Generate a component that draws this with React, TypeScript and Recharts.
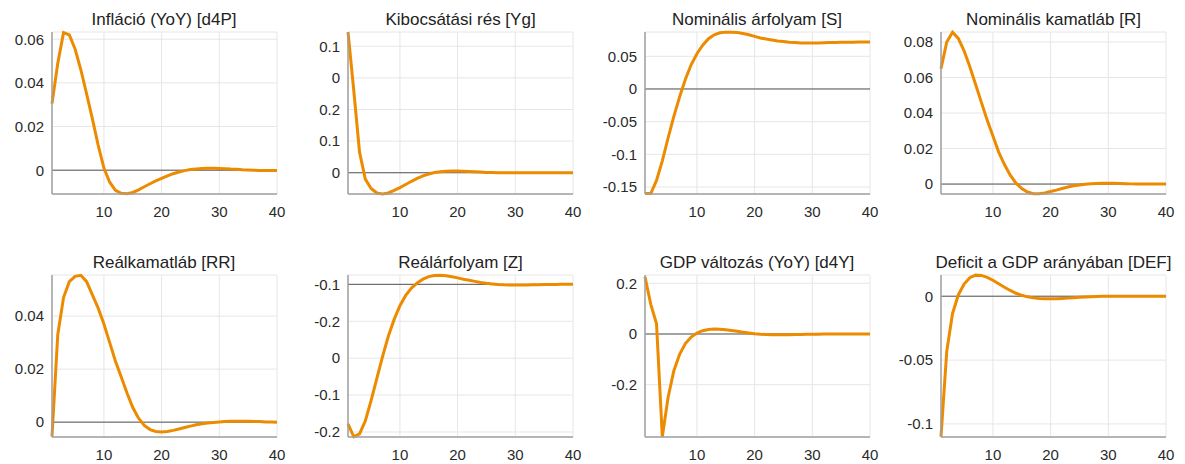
import React from "react";
import { LineChart, Line, XAxis, YAxis, CartesianGrid, ReferenceLine } from "recharts";

const periods = [1, 2, 3, 4, 5, 6, 7, 8, 9, 10, 11, 12, 13, 14, 15, 16, 17, 18, 19, 20, 21, 22, 23, 24, 25, 26, 27, 28, 29, 30, 31, 32, 33, 34, 35, 36, 37, 38, 39, 40];
const xTicks = [10, 20, 30, 40];

const titles = [
  "Infláció (YoY) [d4P]",
  "Kibocsátási rés [Yg]",
  "Nominális árfolyam [S]",
  "Nominális kamatláb [R]",
  "Reálkamatláb [RR]",
  "Reálárfolyam [Z]",
  "GDP változás (YoY) [d4Y]",
  "Deficit a GDP arányában [DEF]",
];

const inflation = [0.0305, 0.049, 0.063, 0.062, 0.0555, 0.046, 0.035, 0.0235, 0.0115, 0.001, -0.0055, -0.0092, -0.0106, -0.0108, -0.0102, -0.009, -0.0076, -0.0062, -0.0049, -0.0037, -0.0026, -0.0016, -0.0008, -0.0002, 0.0003, 0.0006, 0.0008, 0.0009, 0.0009, 0.0008, 0.0007, 0.0005, 0.0004, 0.0002, 0.0001, 0, -0.0001, -0.0001, -0.0001, -0.0001];
const outputGap = [0.445, 0.26, 0.065, -0.02, -0.05, -0.064, -0.067, -0.064, -0.056, -0.047, -0.037, -0.027, -0.018, -0.01, -0.004, 0.0005, 0.003, 0.005, 0.0055, 0.0055, 0.005, 0.004, 0.003, 0.002, 0.001, 0.0004, 0, -0.0003, -0.0004, -0.0004, -0.0003, -0.0002, -0.0001, 0, 0, 0, 0, 0, 0, 0];
const nominalExRate = [-0.16, -0.16, -0.14, -0.11, -0.075, -0.042, -0.012, 0.015, 0.037, 0.054, 0.067, 0.077, 0.083, 0.086, 0.087, 0.087, 0.0865, 0.085, 0.083, 0.0805, 0.078, 0.0765, 0.075, 0.0735, 0.0725, 0.0715, 0.071, 0.0705, 0.0703, 0.0703, 0.0705, 0.0708, 0.071, 0.0712, 0.0714, 0.0716, 0.0717, 0.0718, 0.0719, 0.072];
const nominalRate = [0.065, 0.08, 0.0855, 0.082, 0.075, 0.066, 0.056, 0.046, 0.036, 0.027, 0.018, 0.011, 0.005, 0.0005, -0.0025, -0.0045, -0.0054, -0.0055, -0.005, -0.0042, -0.0034, -0.0025, -0.0017, -0.001, -0.0005, -0.0001, 0.0002, 0.0003, 0.0004, 0.0004, 0.0004, 0.0003, 0.0002, 0.0001, 0, 0, 0, 0, 0, 0];
const realRate = [-0.0054, 0.033, 0.047, 0.053, 0.055, 0.0554, 0.053, 0.048, 0.043, 0.037, 0.03, 0.023, 0.017, 0.011, 0.0055, 0.0015, -0.0012, -0.0028, -0.0035, -0.0037, -0.0035, -0.0031, -0.0026, -0.002, -0.0015, -0.001, -0.0006, -0.0003, -0.0001, 0.0001, 0.0002, 0.0003, 0.0003, 0.0003, 0.0003, 0.0002, 0.0002, 0.0001, 0.0001, 0];
const realExRate = [-0.378, -0.413, -0.405, -0.37, -0.315, -0.255, -0.195, -0.14, -0.095, -0.058, -0.03, -0.01, 0.004, 0.014, 0.021, 0.024, 0.0245, 0.023, 0.0205, 0.0175, 0.014, 0.011, 0.008, 0.005, 0.0028, 0.001, -0.0005, -0.0014, -0.0019, -0.002, -0.0019, -0.0016, -0.0013, -0.001, -0.0007, -0.0004, -0.0002, 0, 0.0001, 0.0001];
const gdpGrowth = [0.225, 0.117, 0.04, -0.405, -0.25, -0.145, -0.08, -0.038, -0.012, 0.004, 0.013, 0.018, 0.0195, 0.019, 0.017, 0.014, 0.0105, 0.007, 0.0035, 0.0008, -0.001, -0.0022, -0.0028, -0.003, -0.003, -0.0027, -0.0023, -0.0018, -0.0014, -0.001, -0.0007, -0.0004, -0.0002, 0, 0.0001, 0.0001, 0.0001, 0.0001, 0.0001, 0];
const deficit = [-0.11, -0.043, -0.0135, 0.001, 0.0095, 0.0145, 0.0165, 0.0163, 0.0148, 0.0125, 0.0097, 0.007, 0.0045, 0.0023, 0.0007, -0.0005, -0.0013, -0.0018, -0.002, -0.002, -0.0019, -0.0017, -0.0015, -0.0012, -0.0009, -0.0006, -0.0004, -0.0002, -0.0001, 0, 0, 0, 0, 0, 0, 0, 0, 0, 0, 0];

const series = [inflation, outputGap, nominalExRate, nominalRate, realRate, realExRate, gdpGrowth, deficit];

const yDomains: [number, number][] = [
  [-0.0109, 0.0633],
  [-0.0672, 0.445],
  [-0.1607, 0.0872],
  [-0.0056, 0.0856],
  [-0.0056, 0.0555],
  [-0.4136, 0.0253],
  [-0.406, 0.2325],
  [-0.1102, 0.0166],
];

const yTicks = [
  [0, 0.02, 0.04, 0.06],
  [0, 0.1, 0.2, 0.3, 0.4],
  [-0.15, -0.1, -0.05, 0, 0.05],
  [0, 0.02, 0.04, 0.06, 0.08],
  [0, 0.02, 0.04],
  [-0.4, -0.3, -0.2, -0.1, 0],
  [-0.2, 0, 0.2],
  [-0.1, -0.05, 0],
];

const yTickLabels = [
  ["0", "0.02", "0.04", "0.06"],
  ["0", "0.1", "0.2", "0", "0.1"],
  ["-0.15", "-0.1", "-0.05", "0", "0.05"],
  ["0", "0.02", "0.04", "0.06", "0.08"],
  ["0", "0.02", "0.04"],
  ["-0.2", "-0.1", "0", "-0.2", "-0.1"],
  ["-0.2", "0", "0.2"],
  ["-0.1", "-0.05", "0"],
];

const FONT = '"Liberation Sans", Arial, Helvetica, sans-serif';
const PLOT_LEFTS = [51.5, 348, 644.5, 941];
const PLOT_TOPS = [32.3, 275];
const PLOT_W = 225;
const PLOT_H = 162;
const M_LEFT = 50;
const M_TOP = 32;
const M_RIGHT = 12;
const X_H = 30;

function Panel({ idx }: { idx: number }) {
  const values = series[idx];
  const data = periods.map((p, i) => ({ x: p, v: values[i] }));
  const ticks = yTicks[idx];
  const labels = yTickLabels[idx];
  const left = PLOT_LEFTS[idx % 4] - M_LEFT;
  const top = PLOT_TOPS[Math.floor(idx / 4)] - M_TOP;
  const W = M_LEFT + PLOT_W + M_RIGHT;
  const H = M_TOP + PLOT_H + X_H;
  return (
    <div style={{ position: "absolute", left, top, width: W, height: H }}>
      <div
        style={{
          position: "absolute",
          left: M_LEFT - 40,
          width: PLOT_W + 80,
          top: M_TOP - 12 - 9,
          height: 18,
          lineHeight: "18px",
          textAlign: "center",
          fontSize: 17,
          fontFamily: FONT,
          color: "#222",
          whiteSpace: "nowrap",
        }}
      >
        {titles[idx]}
      </div>
      <LineChart width={W} height={H} data={data} margin={{ top: M_TOP, right: M_RIGHT, bottom: 0, left: 0 }}>
        <CartesianGrid stroke="#e6e6e6" strokeWidth={1} />
        <XAxis
          dataKey="x"
          type="number"
          domain={[1, 40]}
          ticks={xTicks}
          height={X_H}
          axisLine={{ stroke: "#a0a0a0", strokeWidth: 1.5 }}
          tickLine={false}
          tickSize={0}
          tickMargin={12}
          tick={{ fill: "#2a2a2a", fontSize: 15, fontFamily: FONT }}
          interval={0}
        />
        <YAxis
          type="number"
          domain={yDomains[idx]}
          ticks={ticks}
          width={M_LEFT}
          axisLine={{ stroke: "#a0a0a0", strokeWidth: 1.5 }}
          tickLine={false}
          tickSize={0}
          tickMargin={8}
          interval={0}
          tick={{ fill: "#2a2a2a", fontSize: 15, fontFamily: FONT }}
          tickFormatter={(v: number) => {
            const k = ticks.indexOf(v);
            return k >= 0 ? labels[k] : String(v);
          }}
        />
        <ReferenceLine y={0} stroke="#555555" strokeWidth={1} ifOverflow="hidden" />
        <Line
          type="linear"
          dataKey="v"
          stroke="#ED8B00"
          strokeWidth={3}
          dot={false}
          activeDot={false}
          isAnimationActive={false}
        />
      </LineChart>
    </div>
  );
}

export default function App() {
  return (
    <div style={{ position: "absolute", left: 0, top: 0, width: 1185, height: 464, background: "#fff", fontFamily: FONT }}>
      {[0, 1, 2, 3, 4, 5, 6, 7].map((i) => (
        <Panel key={i} idx={i} />
      ))}
    </div>
  );
}
